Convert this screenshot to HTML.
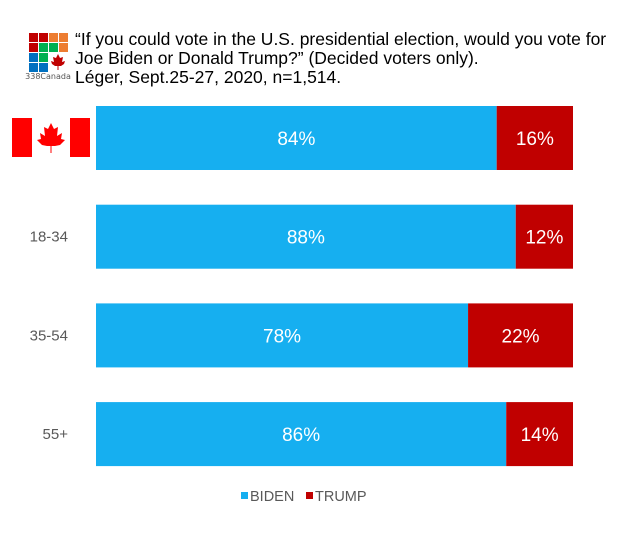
<!DOCTYPE html>
<html><head><meta charset="utf-8"><style>
body{margin:0;background:#fff;font-family:"Liberation Sans",Arial,sans-serif;}
</style></head><body>
<svg width="624" height="549" viewBox="0 0 624 549" xmlns="http://www.w3.org/2000/svg">
<g>
<rect x="29" y="33" width="9" height="9" fill="#c00000"/><rect x="39" y="33" width="9" height="9" fill="#c00000"/>
<rect x="49" y="33" width="9" height="9" fill="#ed7d31"/><rect x="59" y="33" width="9" height="9" fill="#ed7d31"/>
<rect x="29" y="43" width="9" height="9" fill="#c00000"/><rect x="39" y="43" width="9" height="9" fill="#00b050"/>
<rect x="49" y="43" width="9" height="9" fill="#00b050"/><rect x="59" y="43" width="9" height="9" fill="#ed7d31"/>
<rect x="29" y="53" width="9" height="9" fill="#0070c0"/><rect x="39" y="53" width="9" height="9" fill="#00b050"/>
<rect x="29" y="63" width="9" height="9" fill="#0070c0"/><rect x="39" y="63" width="9" height="9" fill="#0070c0"/>
<path d="M58 54 L60 58 L63 57 L62 62 L65 61 L64 64 L61 66 L58.5 66 L58.5 70 L57.5 70 L57.5 66 L55 66 L52 64 L51 61 L54 62 L53 57 L56 58 Z" fill="#c00000"/>
<text x="48" y="79" font-size="8" fill="#555" text-anchor="middle" font-family="DejaVu Sans, sans-serif">338Canada</text>
</g>
<g font-size="17.5" fill="#000">
<text x="75" y="45">“If you could vote in the U.S. presidential election, would you vote for</text>
<text x="75" y="64">Joe Biden or Donald Trump?” (Decided voters only).</text>
<text x="75" y="83">Léger, Sept.25-27, 2020, n=1,514.</text>
</g>
<g>
<rect x="12" y="118" width="20" height="39" fill="#ff0000"/>
<rect x="70" y="118" width="20" height="39" fill="#ff0000"/>
<path d="M51 123 L54 129 L58 127 L57 136 L62 133 L61 139 L65 140 L60 145 L55 146 L51.5 146 L51.5 153 L50.5 153 L50.5 146 L47 146 L42 145 L37 140 L41 139 L40 133 L45 136 L44 127 L48 129 Z" fill="#ff0000"/>
</g>
<g id="bars"></g>
<g font-size="14.5" fill="#595959">
<rect x="241" y="492" width="7" height="7" fill="#16aff0"/>
<text x="250" y="501">BIDEN</text>
<rect x="306" y="492" width="7" height="7" fill="#c00000"/>
<text x="315" y="501">TRUMP</text>
</g>
</svg>
<script>
const categories = ["Canada", "18-34", "35-54", "55+"];
const biden = [84, 88, 78, 86];
const trump = [16, 12, 22, 14];
const X0 = 96, W = 477, Y0 = 106, STEP = 98.7, H = 64;
const xs = v => v / 100 * W;
const g = document.getElementById('bars');
const NS = 'http://www.w3.org/2000/svg';
function mk(tag, attrs){const e=document.createElementNS(NS,tag);for(const k in attrs)e.setAttribute(k,attrs[k]);g.appendChild(e);return e;}
categories.forEach((c,i)=>{
  const y = Y0 + i*STEP;
  const wb = xs(biden[i]), wt = xs(trump[i]);
  const b = mk('rect',{x:X0,y:y,width:wb,height:H,fill:'#16aff0'});
  
  
  const t = mk('rect',{x:X0+wb,y:y,width:wt,height:H,fill:'#c00000'});
  
  
  const lb = mk('text',{x:X0+wb/2,y:y+H/2+7,'text-anchor':'middle','font-size':19,fill:'#fff'});
  lb.textContent = biden[i] + '%';
  
  
  const lt = mk('text',{x:X0+wb+wt/2,y:y+H/2+7,'text-anchor':'middle','font-size':19,fill:'#fff'});
  lt.textContent = trump[i] + '%';
  
  
  if (i > 0) {
    const cl = mk('text',{x:68,y:y+H/2+5,'text-anchor':'end','font-size':15,fill:'#595959'});
    cl.textContent = c;
    
    
  }
});
</script>
</body></html>
